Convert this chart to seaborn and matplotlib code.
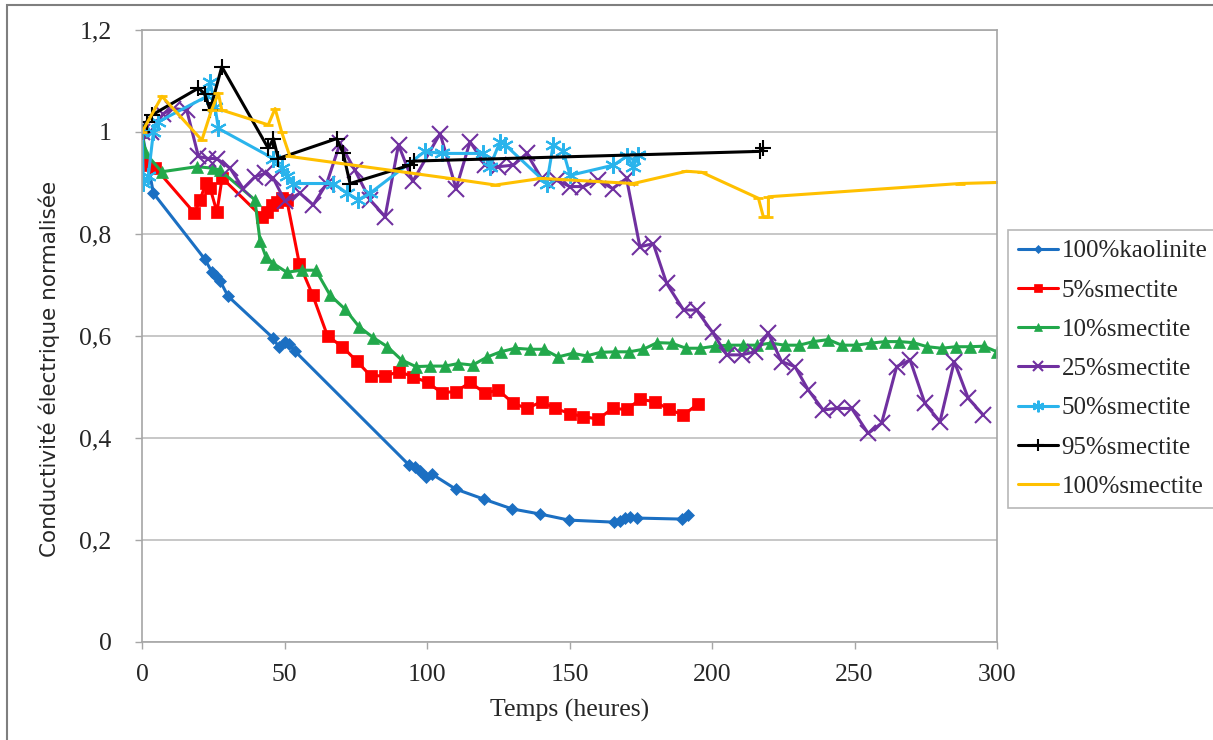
import matplotlib
matplotlib.use("Agg")
import matplotlib.pyplot as plt
import seaborn as sns
import pandas as pd
from matplotlib.patches import Rectangle
from matplotlib.ticker import FuncFormatter

# ---------------- data ----------------
kaol_x = [0, 4, 22, 24.6, 26, 27.4, 30.2, 46, 48, 50.2, 51.5, 53.7, 93.7, 95.8, 97.5, 99.6, 101.8,
          110, 120, 129.8, 139.6, 149.8, 165.6, 167.7, 169.5, 171.2, 173.7, 189.5, 191.6]
kaol_y = [1.0, 0.88, 0.751, 0.725, 0.718, 0.708, 0.678, 0.596, 0.578, 0.588, 0.585, 0.57, 0.347, 0.343,
          0.335, 0.324, 0.329, 0.30, 0.28, 0.261, 0.251, 0.239, 0.235, 0.237, 0.243, 0.245, 0.243, 0.241, 0.249]

s5_x = [0, 1, 4.6, 18.4, 20.4, 22.4, 23.9, 26.3, 28.1, 42, 43.7, 45.5, 47.3, 49.1, 50.8, 55.2, 59.9,
        65.1, 70.3, 75.3, 80.2, 85.3, 90.3, 95.2, 100.2, 105.1, 110.2, 115.1, 120.4, 125, 130.3, 135,
        140.2, 144.9, 150.2, 154.8, 160.1, 165.1, 170, 174.9, 180, 185, 189.9, 195.2]
s5_y = [1.0, 0.935, 0.93, 0.841, 0.867, 0.90, 0.89, 0.843, 0.91, 0.834, 0.844, 0.857, 0.863, 0.870,
        0.867, 0.742, 0.68, 0.60, 0.579, 0.551, 0.522, 0.522, 0.53, 0.52, 0.509, 0.489, 0.491, 0.509,
        0.488, 0.494, 0.468, 0.458, 0.471, 0.458, 0.448, 0.442, 0.437, 0.458, 0.456, 0.476, 0.471,
        0.456, 0.445, 0.467]

s10_x = [0, 1, 6.9, 19.2, 25, 27.4, 39.6, 41.4, 43.5, 46.1, 50.8, 56, 61, 66, 71.2, 76.2, 81.1, 86.1,
         91.1, 96.1, 101, 106.3, 111, 116, 121.2, 125.8, 130.9, 136.1, 141, 146, 151.1, 156, 160.9,
         166, 171, 175.9, 180.8, 185.8, 190.9, 195.8, 201, 205.7, 211, 215.7, 220.6, 225.6, 230.6,
         235.6, 240.8, 245.5, 250.7, 255.7, 260.7, 265.7, 270.6, 275.5, 280.6, 285.6, 290.5, 295.4, 300]
s10_y = [1.0, 0.96, 0.922, 0.932, 0.929, 0.925, 0.867, 0.787, 0.755, 0.742, 0.725, 0.729, 0.729, 0.68,
         0.653, 0.618, 0.597, 0.579, 0.553, 0.54, 0.541, 0.541, 0.546, 0.543, 0.559, 0.569, 0.576,
         0.574, 0.574, 0.559, 0.566, 0.561, 0.568, 0.569, 0.569, 0.574, 0.587, 0.586, 0.576, 0.576,
         0.58, 0.582, 0.582, 0.582, 0.586, 0.582, 0.582, 0.589, 0.593, 0.582, 0.582, 0.586, 0.589,
         0.589, 0.587, 0.579, 0.576, 0.579, 0.579, 0.58, 0.569]

s25_x = [0, 3, 7.5, 11, 15.7, 19.8, 23.3, 26.2, 30.9, 35.5, 39.6, 43.2, 46.1, 50.2, 55.4, 60.1, 64.8,
         69.5, 74.7, 80, 85.3, 90, 95, 104.6, 110.2, 115.1, 120.4, 125, 130.3, 135, 140.2, 145.5,
         150.2, 154.8, 160.1, 165.1, 170, 174.7, 179.4, 184.1, 190, 194.6, 200.2, 205.2, 210.4, 215.1,
         219.8, 224.4, 229.1, 233.8, 239, 243.7, 249, 254.8, 259.5, 264.8, 269.5, 274.7, 280, 285,
         289.9, 295.2]
s25_y = [1.0, 1.0, 1.036, 1.046, 1.043, 0.952, 0.948, 0.948, 0.929, 0.889, 0.912, 0.919, 0.909, 0.864,
         0.88, 0.857, 0.899, 0.978, 0.925, 0.867, 0.834, 0.975, 0.903, 0.997, 0.889, 0.981, 0.935,
         0.932, 0.935, 0.958, 0.909, 0.905, 0.893, 0.893, 0.906, 0.889, 0.909, 0.775, 0.781, 0.703,
         0.651, 0.651, 0.607, 0.563, 0.563, 0.569, 0.605, 0.55, 0.54, 0.494, 0.455, 0.458, 0.458,
         0.409, 0.429, 0.54, 0.553, 0.468, 0.432, 0.55, 0.478, 0.445]

s50_x = [0, 0.5, 2.2, 4, 5.7, 22.8, 23.9, 25.6, 26.8, 46.1, 49, 50.8, 53.1, 67.1, 72, 75.9, 80,
         99.3, 105.1, 119.8, 122.1, 125.6, 127.4, 142, 144.3, 147.8, 150.2, 165.4, 170, 172.4, 174.2]
s50_y = [1.0, 0.90, 0.913, 1.0, 1.02, 1.07, 1.099, 1.05, 1.007, 0.948, 0.929, 0.913, 0.899, 0.899,
         0.88, 0.867, 0.88, 0.962, 0.958, 0.958, 0.932, 0.981, 0.975, 0.899, 0.975, 0.962, 0.915,
         0.935, 0.952, 0.932, 0.955]

s95_x = [0, 1.6, 3.4, 19.8, 22, 23.9, 28, 44.3, 46.1, 47.8, 68.3, 70.6, 73, 94, 95.5, 216.8, 218]
s95_y = [1.0, 1.02, 1.033, 1.086, 1.075, 1.043, 1.128, 0.968, 0.987, 0.948, 0.987, 0.958, 0.899,
         0.935, 0.943, 0.962, 0.968]

s100_x = [0, 7, 21, 24.4, 26.8, 28, 44.3, 46.7, 49, 51.9, 108, 124, 140, 172.4, 191, 196.4, 216.3,
          218, 219.8, 219.8, 287, 300]
s100_y = [1.0, 1.07, 0.984, 1.043, 1.076, 1.043, 1.014, 1.046, 1.0, 0.952, 0.909, 0.896, 0.909, 0.899,
          0.923, 0.921, 0.87, 0.834, 0.834, 0.873, 0.899, 0.901]

labels = ["100%kaolinite", "5%smectite", "10%smectite", "25%smectite",
          "50%smectite", "95%smectite", "100%smectite"]
xs = [kaol_x, s5_x, s10_x, s25_x, s50_x, s95_x, s100_x]
ys = [kaol_y, s5_y, s10_y, s25_y, s50_y, s95_y, s100_y]

x_ticks = [0, 50, 100, 150, 200, 250, 300]
y_ticks = [0, 0.2, 0.4, 0.6, 0.8, 1.0, 1.2]

# ---------------- styles ----------------
colors = ["#1B6FC2", "#FF0000", "#22A84B", "#7030A0", "#2AB4EC", "#000000", "#FFC000"]
markers = ["D", "s", "^", "x", (6, 2, 0), "+", "_"]
msizes = [6.5, 9, 8, 11, 12, 12, 7]
mews = [0.5, 0.5, 0.5, 1.5, 1.5, 1.5, 2.0]

sns.set_theme(style="white")
plt.rcParams["font.family"] = ["Liberation Serif", "DejaVu Serif"]

fig = plt.figure(figsize=(12.13, 7.40), dpi=100)
ax = fig.add_axes([142 / 1213, 1 - 642 / 740, (997 - 142) / 1213, (642 - 30) / 740])

for lab, x, y, c, m, ms, mew in zip(labels, xs, ys, colors, markers, msizes, mews):
    df = pd.DataFrame({"t": x, "v": y})
    sns.lineplot(data=df, x="t", y="v", ax=ax, sort=False, estimator=None,
                 color=c, marker=m, markersize=ms, markeredgecolor=c,
                 markerfacecolor=c, markeredgewidth=mew, linewidth=2.2, label=lab)

ax.set_xlim(0, 300)
ax.set_ylim(0, 1.2)
ax.set_xticks(x_ticks)
ax.set_yticks(y_ticks)
ax.yaxis.set_major_formatter(FuncFormatter(lambda v, p: ("%g" % v).replace(".", ",")))
ax.grid(axis="y", color="#BDBDBD", linewidth=1.2)
ax.grid(axis="x", visible=False)
for s in ax.spines.values():
    s.set_color("#A6A6A6")
    s.set_linewidth(1.2)
ax.tick_params(axis="both", direction="out", length=5, width=1, color="#A6A6A6",
               labelsize=18.5, left=True, bottom=True)
ax.tick_params(axis="y", pad=17)
ax.tick_params(axis="x", pad=11)

ax.set_xlabel("Temps (heures)", fontsize=18.5)
ax.set_ylabel("Conductivité électrique normalisée", fontsize=15.5,
              family=["DejaVu Sans"])
ax.xaxis.set_label_coords(0.5, (642 - 699) / 612)
ax.yaxis.set_label_coords((60 - 142) / 855, (642 - 369) / 612)

leg = ax.legend(loc="upper left", bbox_to_anchor=(1008 / 1213, 1 - 230 / 740),
                bbox_transform=fig.transFigure, frameon=True, fancybox=False,
                fontsize=18, handlelength=1.6, handletextpad=0.15, labelspacing=0.67,
                borderpad=0.4, borderaxespad=0, markerscale=0.7)
leg.get_frame().set_edgecolor("#A6A6A6")
leg.get_frame().set_linewidth(1.2)

fig.patches.append(Rectangle((7 / 1213, -0.05), 1.2, 1 - 5 / 740 + 0.05, transform=fig.transFigure,
                             fill=False, edgecolor="#7F7F7F", linewidth=1.5, zorder=0))

fig.savefig("out.png", dpi=100)
